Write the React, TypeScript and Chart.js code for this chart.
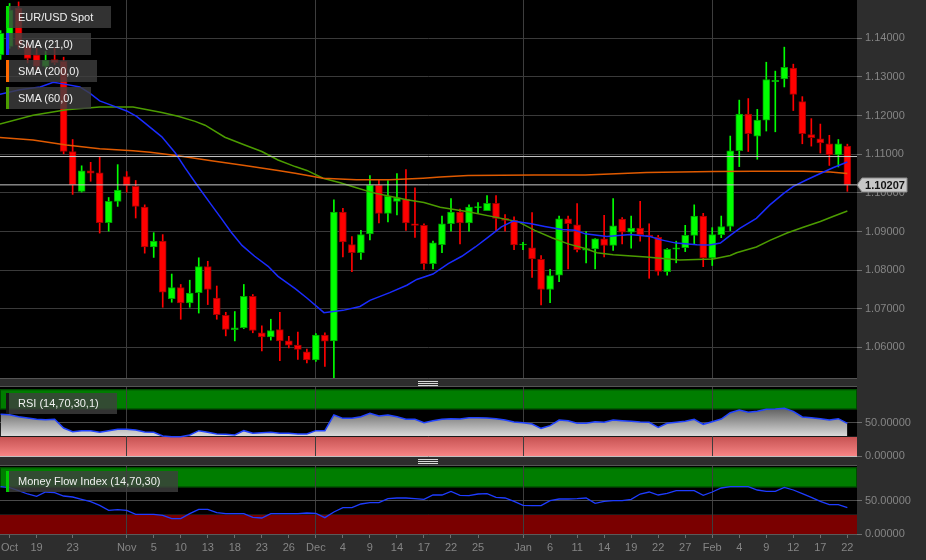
import React, { useEffect, useRef } from "react";
import { Chart, registerables } from "chart.js";

Chart.register(...registerables);

const FONT = "'Liberation Sans', Arial, sans-serif";
const W = 926;
const H = 560;

// candle index axis: index 0 = Oct 14 2015 ... index 93 = Feb 22 2016 (trading days)
const X_MIN = -1.064;
const X_MAX = 94.07;
const FIRST_INDEX = -1;

const OPEN = [
  1.1357, 1.1379, 1.1478, 1.1379, 1.1357, 1.1327, 1.1345, 1.134, 1.1107, 1.1004,
  1.1057, 1.1052, 1.0923, 1.0978, 1.1042, 1.1017, 1.0963, 1.086, 1.0875, 1.0726,
  1.0755, 1.0715, 1.0742, 1.0809, 1.0728, 1.0683, 1.0646, 1.0651, 1.0732, 1.0638,
  1.0627, 1.0646, 1.0617, 1.0606, 1.0589, 1.0568, 1.0632, 1.0617, 1.095, 1.0866,
  1.0845, 1.0894, 1.102, 1.0947, 1.0978, 1.0984, 1.092, 1.0916, 1.0817, 1.0866,
  1.092, 1.095, 1.0922, 1.0962, 1.0954, 1.0973, 1.0934, 1.0929, 1.0865, 1.0858,
  1.0828, 1.075, 1.0787, 1.0933, 1.0917, 1.0852, 1.0855, 1.0881, 1.0864, 1.0932,
  1.0898, 1.0909, 1.0891, 1.0885, 1.0796, 1.0854, 1.0858, 1.089, 1.094, 1.0832,
  1.0892, 1.0913, 1.1109, 1.1204, 1.1147, 1.1188, 1.1288, 1.1295, 1.1323, 1.1236,
  1.1151, 1.114, 1.1127, 1.1098, 1.1121,
];
const HIGH = [
  1.142, 1.149, 1.1494, 1.1391, 1.1374, 1.1366, 1.1374, 1.1351, 1.1138, 1.107,
  1.1079, 1.1094, 1.0988, 1.1073, 1.1055, 1.1032, 1.0969, 1.0897, 1.0892, 1.079,
  1.0763, 1.0774, 1.0832, 1.0823, 1.0759, 1.0691, 1.0693, 1.0763, 1.0737, 1.0656,
  1.0673, 1.0691, 1.0629, 1.064, 1.0596, 1.0636, 1.0638, 1.0982, 1.096, 1.0887,
  1.0903, 1.1045, 1.1034, 1.1032, 1.105, 1.106, 1.1013, 1.092, 1.0875, 1.094,
  1.0985, 1.0958, 1.0969, 1.0975, 1.0993, 1.0993, 1.0944, 1.0938, 1.0872, 1.0949,
  1.0838, 1.0802, 1.094, 1.094, 1.0972, 1.09, 1.0882, 1.0942, 1.0985, 1.0936,
  1.094, 1.0978, 1.092, 1.089, 1.0856, 1.0875, 1.0916, 1.0969, 1.0947, 1.091,
  1.094, 1.1147, 1.124, 1.1244, 1.1216, 1.1338, 1.1315, 1.1377, 1.1333, 1.1249,
  1.1192, 1.1178, 1.1149, 1.1138, 1.1126,
];
const LOW = [
  1.1345, 1.1374, 1.1372, 1.1336, 1.1319, 1.1323, 1.1332, 1.1101, 1.0996, 1.1002,
  1.103, 1.0896, 1.0901, 1.0965, 1.1002, 1.0935, 1.0844, 1.0833, 1.0704, 1.0717,
  1.0673, 1.0704, 1.0689, 1.0711, 1.0673, 1.063, 1.0617, 1.0649, 1.0638, 1.0591,
  1.0619, 1.0566, 1.0599, 1.0569, 1.056, 1.0564, 1.0551, 1.0522, 1.0834, 1.0796,
  1.0828, 1.0878, 1.0922, 1.0925, 1.0943, 1.0903, 1.0885, 1.0802, 1.0803, 1.0845,
  1.0901, 1.0868, 1.0901, 1.0947, 1.0954, 1.0901, 1.0901, 1.0853, 1.0853, 1.0781,
  1.071, 1.0716, 1.077, 1.0803, 1.0847, 1.0819, 1.0803, 1.0834, 1.0851, 1.0868,
  1.0857, 1.0875, 1.0779, 1.0787, 1.0787, 1.0819, 1.0848, 1.0868, 1.0809, 1.0812,
  1.0884, 1.0902, 1.1068, 1.1107, 1.1087, 1.116, 1.1158, 1.1274, 1.1213, 1.1127,
  1.1121, 1.1103, 1.1071, 1.1067, 1.1004,
];
const CLOSE = [
  1.1413, 1.1473, 1.1382, 1.1348, 1.1327, 1.1343, 1.1337, 1.1107, 1.1021, 1.1057,
  1.1051, 1.0923, 1.0978, 1.1007, 1.1019, 1.0965, 1.086, 1.0875, 1.0743, 1.0755,
  1.0715, 1.0741, 1.0809, 1.075, 1.0685, 1.0647, 1.0651, 1.0732, 1.0644, 1.0627,
  1.0644, 1.0617, 1.0606, 1.0595, 1.0568, 1.0632, 1.0616, 1.095, 1.0873, 1.0845,
  1.0892, 1.102, 1.0947, 1.0991, 1.0987, 1.0922, 1.0916, 1.0817, 1.0871, 1.092,
  1.095, 1.0922, 1.0963, 1.0964, 1.0973, 1.0934, 1.0929, 1.0865, 1.0867, 1.0829,
  1.075, 1.0786, 1.0933, 1.092, 1.0853, 1.0856, 1.0881, 1.0864, 1.0915, 1.0898,
  1.0909, 1.0892, 1.0886, 1.0797, 1.0854, 1.0858, 1.089, 1.094, 1.0832, 1.0892,
  1.0913, 1.1109, 1.1204, 1.1153, 1.1188, 1.1293, 1.1291, 1.1325, 1.1255, 1.1153,
  1.1143, 1.1129, 1.1098, 1.1127, 1.10207,
];

// moving averages: [candle index, value]
const SMA21 = [
  [-1.07, 1.1255], [1.15, 1.1267], [3.4, 1.1274], [4.85, 1.1286], [5.96, 1.1282],
  [7.8, 1.1274], [8.9, 1.1258], [10, 1.1238], [11.5, 1.1225], [13, 1.1212],
  [14.1, 1.1198], [15.1, 1.1179], [16.9, 1.1145], [18.4, 1.1103], [19.5, 1.1064],
  [20.9, 1.1017], [22.4, 1.0969], [23.5, 1.0934], [24.6, 1.0898], [25.8, 1.0864],
  [27.2, 1.0836], [28.7, 1.081], [29.8, 1.0784], [31.7, 1.0752], [33, 1.0728],
  [34.9, 1.069], [37, 1.0696], [38.9, 1.0706], [40, 1.0722], [42.2, 1.0742],
  [44.1, 1.0761], [45.2, 1.0776], [47, 1.079], [48.7, 1.0817], [50.2, 1.0836],
  [51.7, 1.086], [53.1, 1.0885], [54.6, 1.0912], [55.9, 1.0927], [57.9, 1.092],
  [59.4, 1.0913], [61.3, 1.0905], [62.8, 1.0903], [63.9, 1.0894], [66.3, 1.0887],
  [68.9, 1.0892], [71.1, 1.0887], [72.2, 1.0879], [74, 1.087], [76.3, 1.0866],
  [77.7, 1.0865], [78.9, 1.087], [80, 1.089], [81.1, 1.0909], [82.9, 1.0934],
  [84.4, 1.0969], [85.9, 1.0998], [87, 1.1017], [88.5, 1.1034], [90, 1.105],
  [91.4, 1.1065], [93, 1.108],
];
const SMA200 = [
  [-1.07, 1.1143], [2.6, 1.1137], [6.3, 1.1124], [10, 1.1114], [13.7, 1.1109],
  [15.6, 1.1105], [18.7, 1.1096], [22.4, 1.1083], [26.1, 1.1071], [29.8, 1.1058],
  [31.7, 1.1051], [34.8, 1.1038], [38.5, 1.1034], [42.2, 1.1034], [45.9, 1.1038],
  [47.8, 1.1041], [50.9, 1.1045], [58.3, 1.1046], [63.9, 1.1046], [70.7, 1.1053],
  [78.1, 1.1055], [82.6, 1.1056], [88.1, 1.1056], [91.1, 1.1054], [93, 1.105],
];
const SMA60 = [
  [-1.07, 1.1178], [2.6, 1.1201], [6.3, 1.1215], [10, 1.1222], [13.7, 1.1222],
  [15.6, 1.1214], [16.9, 1.1208], [18.7, 1.1198], [20.6, 1.1185], [21.7, 1.1175],
  [23.9, 1.1144], [26.1, 1.1124], [28, 1.1107], [29.8, 1.1085], [31.7, 1.1068],
  [33, 1.1058], [34.8, 1.1038], [36.7, 1.1026], [38.5, 1.1013], [40.4, 1.1],
  [42.2, 1.0991], [44.1, 1.0982], [46, 1.0975], [47.8, 1.0963], [50.9, 1.0951],
  [54.6, 1.0934], [56.5, 1.0925], [58.3, 1.0903], [60.2, 1.0884], [62, 1.0868],
  [63.9, 1.0856], [65.2, 1.0845], [67, 1.084], [70.7, 1.0834], [74.4, 1.0826],
  [78.1, 1.0829], [80, 1.0838], [80.7, 1.0845], [82.9, 1.086], [84.4, 1.0877],
  [86.3, 1.0896], [88.1, 1.0911], [90, 1.0926], [91.4, 1.0939], [93, 1.0953],
];

const RSI = [
  62.5, 62, 59, 57, 55, 54.5, 55, 42, 36.5, 38, 38, 35.5, 38, 40, 40, 39, 36, 35.5,
  30, 29, 29, 31.5, 38, 35.5, 33, 32.5, 31.5, 38, 34, 35, 35.5, 34, 34, 33, 33, 38,
  38, 61.5, 56.5, 56.5, 59, 64, 60, 61.5, 59, 55, 55, 50, 53, 55, 56, 55.5, 57.5,
  57.5, 57, 56, 54, 51, 50, 48, 41.5, 45.5, 54, 53, 49, 49, 51.5, 50.5, 54, 53, 52,
  51, 50.5, 43, 49, 50.5, 52, 55, 47.5, 51.5, 55.5, 65, 69, 65.5, 67, 70, 70.5,
  71.5, 67, 58.5, 57.5, 56, 54, 56, 49,
];
const MFI = [
  71, 69.5, 65, 60, 56.5, 63, 62, 57, 55.5, 52, 48.5, 43, 35.5, 36.5, 35.5, 29.5,
  29.5, 29.5, 28, 23, 23, 30.5, 37, 37, 32, 30.5, 30.5, 30.5, 25, 24, 30.5, 30.5,
  30.5, 30.5, 31.5, 31, 24.5, 33, 39.5, 39.5, 45, 47, 47, 53, 54, 54, 53, 52, 58.5,
  58.5, 64, 58, 57.5, 60, 60.5, 55, 54, 49, 43, 42.5, 42.5, 50, 52.5, 52.5, 53, 54,
  46, 49, 50, 50, 52, 60, 63, 58.5, 61, 65, 65, 65, 58, 63, 69, 71, 71, 71, 66, 64,
  64, 70, 66, 60.5, 55, 49, 44, 44, 39.5,
];

const X_TICK_IDX = [0, 3, 7, 13, 16, 19, 22, 25, 28, 31, 34, 37, 40, 43, 46, 49, 52, 57, 60, 63, 66, 69, 72, 75, 78, 81, 84, 87, 90, 93];
const X_TICK_LABELS = ["Oct", "19", "23", "Nov", "5", "10", "13", "18", "23", "26", "Dec", "4", "9", "14", "17", "22", "25", "Jan", "6", "11", "14", "19", "22", "27", "Feb", "4", "9", "12", "17", "22"];
const MONTH_IDX = [13, 34, 57, 78];
const PRICE_TICKS = [1.06, 1.07, 1.08, 1.09, 1.1, 1.11, 1.12, 1.13, 1.14];
const OSC_TICKS = [0, 50];
const PRICE_MIN = 1.0521;
const PRICE_MAX = 1.1499;
const LAST_PRICE = 1.10207;
const PREV_LEVEL = 1.1094;

const MAIN_LEGEND = [
  { text: "EUR/USD Spot", color: "#00dd00" },
  { text: "SMA (21,0)", color: "#1a2cff" },
  { text: "SMA (200,0)", color: "#ff6a00" },
  { text: "SMA (60,0)", color: "#4c9c00" },
];

const IDX = OPEN.map((_, i) => i + FIRST_INDEX);
const UP = OPEN.map((o, i) => CLOSE[i] >= o);

const AXIS_TEXT = "#858585";
const GRID = "#3a3a3a";
const VGRID = "#3d3d3d";

const xMonthGrid = () => ({
  type: "linear" as const,
  min: X_MIN,
  max: X_MAX,
  offset: false,
  afterBuildTicks: (s: any) => {
    s.ticks = MONTH_IDX.map((v) => ({ value: v }));
  },
  ticks: { display: false },
  grid: { color: VGRID, drawTicks: false, offset: false },
  border: { display: false },
  afterFit: (s: any) => {
    s.height = 0;
    s.paddingLeft = 0;
    s.paddingRight = 0;
  },
});

const yAxis = (min: number, max: number, ticks: number[], gridColor: any) => ({
  type: "linear" as const,
  position: "right" as const,
  min,
  max,
  afterBuildTicks: (s: any) => {
    s.ticks = ticks.map((v) => ({ value: v }));
  },
  afterFit: (s: any) => {
    s.width = 69;
    s.paddingTop = 0;
    s.paddingBottom = 0;
  },
  ticks: {
    color: AXIS_TEXT,
    font: { family: FONT, size: 11 },
    padding: 3,
    callback: (v: any) => Number(v).toFixed(5),
  },
  grid: { color: gridColor, tickColor: "#6e6e6e", tickLength: 5, offset: false },
  border: { display: false },
});

const lineDs = (pts: number[][], color: string, width = 1.5) => ({
  type: "line" as const,
  data: pts.map(([x, y]) => ({ x, y })),
  borderColor: color,
  borderWidth: width,
  pointRadius: 0,
  fill: false,
  tension: 0,
});

const levelDs = (v: number) => ({
  type: "line" as const,
  data: [
    { x: X_MIN, y: v },
    { x: X_MAX, y: v },
  ],
  borderColor: "#c8c8c8",
  borderWidth: 1,
  pointRadius: 0,
  fill: false,
});

const blackArea = (bands?: (chart: any) => void) => ({
  id: "blackArea",
  beforeDraw(chart: any) {
    const { ctx, chartArea: a } = chart;
    ctx.save();
    ctx.fillStyle = "#000";
    ctx.fillRect(a.left, a.top, a.right - a.left, a.bottom - a.top);
    ctx.strokeStyle = "#555";
    ctx.lineWidth = 1;
    ctx.beginPath();
    ctx.moveTo(a.left, a.top - 0.5);
    ctx.lineTo(a.right, a.top - 0.5);
    ctx.stroke();
    if (bands) bands(chart);
    ctx.restore();
  },
});

const drawBands = (lowFill: (ctx: any, y1: number, y2: number) => any) => (chart: any) => {
  const { ctx, chartArea: a, scales } = chart;
  const y = scales.y;
  const g1 = y.getPixelForValue(100);
  const g2 = y.getPixelForValue(70);
  ctx.fillStyle = "#007d00";
  ctx.fillRect(a.left, g1, a.right - a.left, g2 - g1);
  ctx.strokeStyle = "#004a00";
  ctx.strokeRect(a.left + 0.5, g1 + 0.5, a.right - a.left - 1, g2 - g1 - 1);
  const r1 = y.getPixelForValue(30);
  const r2 = y.getPixelForValue(0);
  ctx.fillStyle = lowFill(ctx, r1, r2);
  ctx.fillRect(a.left, r1, a.right - a.left, r2 - r1);
  ctx.strokeStyle = "#1a1a1a";
  ctx.beginPath();
  ctx.moveTo(a.left, r1 + 0.5);
  ctx.lineTo(a.right, r1 + 0.5);
  ctx.stroke();
};

const mainDecor = {
  id: "mainDecor",
  afterDraw(chart: any) {
    const { ctx, chartArea: a, scales } = chart;
    ctx.save();
    ctx.strokeStyle = "#555";
    ctx.lineWidth = 1;
    ctx.beginPath();
    ctx.moveTo(a.left, a.bottom + 0.5);
    ctx.lineTo(a.right, a.bottom + 0.5);
    ctx.stroke();
    const y = Math.round(scales.y.getPixelForValue(LAST_PRICE));
    const x0 = a.right;
    ctx.fillStyle = "#c8c8c8";
    ctx.strokeStyle = "#8a8a8a";
    ctx.beginPath();
    ctx.moveTo(x0, y);
    ctx.lineTo(x0 + 5, y - 7);
    ctx.lineTo(x0 + 50, y - 7);
    ctx.lineTo(x0 + 50, y + 7);
    ctx.lineTo(x0 + 5, y + 7);
    ctx.closePath();
    ctx.fill();
    ctx.stroke();
    ctx.fillStyle = "#141414";
    ctx.font = `bold 11px ${FONT}`;
    ctx.textAlign = "center";
    ctx.textBaseline = "middle";
    ctx.fillText(LAST_PRICE.toFixed(5), x0 + 28, y + 0.5);
    ctx.restore();
  },
};

const baseOpts = (bottomPad: number, topPad: number) => ({
  responsive: false,
  animation: false as const,
  devicePixelRatio: 1,
  events: [] as any[],
  layout: { padding: { left: 0, right: 0, top: topPad, bottom: bottomPad } },
  plugins: { legend: { display: false }, tooltip: { enabled: false } },
});

function Tag({ left, top, h, color, text }: { left: number; top: number; h: number; color: string; text: string }) {
  return (
    <div
      style={{
        position: "absolute",
        left,
        top,
        height: h,
        display: "flex",
        alignItems: "stretch",
        background: "rgba(62,62,62,0.8)",
        pointerEvents: "none",
      }}
    >
      <div style={{ width: 3, height: h, background: color }} />
      <div
        style={{
          fontFamily: FONT,
          fontSize: 11,
          lineHeight: `${h}px`,
          height: h,
          padding: "0 18px 0 9px",
          color: "#f0f0f0",
          whiteSpace: "nowrap",
        }}
      >
        {text}
      </div>
    </div>
  );
}

export default function App() {
  const mainRef = useRef<HTMLCanvasElement>(null);
  const rsiRef = useRef<HTMLCanvasElement>(null);
  const mfiRef = useRef<HTMLCanvasElement>(null);

  useEffect(() => {
    document.body.style.margin = "0";
    document.body.style.background = "#2d2d2d";

    const main = new Chart(mainRef.current!, {
      type: "bar",
      data: {
        datasets: [
          levelDs(LAST_PRICE),
          levelDs(PREV_LEVEL),
          lineDs(SMA21, "#1a2cff"),
          lineDs(SMA200, "#e05a00", 1.5),
          lineDs(SMA60, "#4c9c00"),
          {
            type: "bar",
            data: IDX.map((x, i) => ({ x, y: [OPEN[i], CLOSE[i]] })),
            backgroundColor: UP.map((u) => (u ? "#00ff00" : "#ff0000")),
            borderColor: UP.map((u) => (u ? "#00a000" : "#9a0000")),
            borderWidth: 1,
            borderSkipped: false,
            barThickness: 7,
            grouped: false,
            minBarLength: 1,
          },
          {
            type: "bar",
            data: IDX.map((x, i) => ({ x, y: [LOW[i], HIGH[i]] })),
            backgroundColor: UP.map((u) => (u ? "#00ff00" : "#ff0000")),
            borderWidth: 0,
            barThickness: 1,
            grouped: false,
          },
        ] as any,
      },
      options: {
        ...baseOpts(H - 378, 0),
        scales: {
          x: xMonthGrid(),
          y: yAxis(PRICE_MIN, PRICE_MAX, PRICE_TICKS, GRID),
        },
      } as any,
      plugins: [blackArea(), mainDecor],
    });

    const rsi = new Chart(rsiRef.current!, {
      type: "line",
      data: {
        datasets: [
          {
            data: IDX.map((x, i) => ({ x, y: RSI[i] })),
            borderColor: "#2244ff",
            borderWidth: 1.5,
            pointRadius: 0,
            tension: 0,
            fill: { value: 30 },
            backgroundColor: (c: any) => {
              const ch = c.chart;
              if (!ch.chartArea) return "rgba(0,0,0,0)";
              const y = ch.scales.y;
              const g = ch.ctx.createLinearGradient(0, y.getPixelForValue(70), 0, y.getPixelForValue(30));
              g.addColorStop(0, "#646464");
              g.addColorStop(1, "#dadada");
              return g;
            },
          },
        ] as any,
      },
      options: {
        ...baseOpts(H - 456, 387),
        scales: {
          x: xMonthGrid(),
          y: yAxis(0, 103.5, OSC_TICKS, (c: any) => (c.tick && c.tick.value === 0 ? "#c0c0c0" : "#4a4a4a")),
        },
      } as any,
      plugins: [
        blackArea(
          drawBands((ctx, y1, y2) => {
            const g = ctx.createLinearGradient(0, y1, 0, y2);
            g.addColorStop(0, "#c45050");
            g.addColorStop(1, "#f78585");
            return g;
          })
        ),
      ],
    });

    const mfi = new Chart(mfiRef.current!, {
      type: "line",
      data: {
        datasets: [
          {
            data: IDX.map((x, i) => ({ x, y: MFI[i] })),
            borderColor: "#1e3cff",
            borderWidth: 1.3,
            pointRadius: 0,
            tension: 0,
            fill: false,
          },
        ] as any,
      },
      options: {
        ...baseOpts(0, 466),
        scales: {
          x: {
            type: "linear",
            min: X_MIN,
            max: X_MAX,
            offset: false,
            afterBuildTicks: (s: any) => {
              s.ticks = X_TICK_IDX.map((v) => ({ value: v }));
            },
            afterFit: (s: any) => {
              s.height = 26;
              s.paddingLeft = 0;
              s.paddingRight = 0;
            },
            ticks: {
              color: AXIS_TEXT,
              font: { family: FONT, size: 11 },
              autoSkip: false,
              maxRotation: 0,
              padding: 3,
              callback: (v: any) => X_TICK_LABELS[X_TICK_IDX.indexOf(Number(v))],
            },
            grid: {
              color: (c: any) => (c.tick && MONTH_IDX.includes(c.tick.value) ? VGRID : "rgba(0,0,0,0)"),
              tickColor: "#6e6e6e",
              tickLength: 4,
              offset: false,
            },
            border: { display: false },
          },
          y: yAxis(0, 102, OSC_TICKS, (c: any) => (c.tick && c.tick.value === 0 ? "#5a5a5a" : "#4a4a4a")),
        },
      } as any,
      plugins: [blackArea(drawBands(() => "#7a0000"))],
    });

    return () => {
      main.destroy();
      rsi.destroy();
      mfi.destroy();
    };
  }, []);

  const canvasStyle: React.CSSProperties = { position: "absolute", left: 0, top: 0 };

  return (
    <div style={{ position: "absolute", left: 0, top: 0, width: W, height: H, background: "#2d2d2d", overflow: "hidden" }}>
      <canvas ref={mainRef} width={W} height={H} style={canvasStyle} />
      <canvas ref={rsiRef} width={W} height={H} style={canvasStyle} />
      <canvas ref={mfiRef} width={W} height={H} style={canvasStyle} />
      {MAIN_LEGEND.map((l, k) => (
        <Tag key={l.text} left={6} top={6 + k * 27} h={22} color={l.color} text={l.text} />
      ))}
      <Tag left={6} top={393} h={21} color="#161616" text="RSI (14,70,30,1)" />
      <Tag left={6} top={471} h={21} color="#00cc00" text="Money Flow Index (14,70,30)" />
      {[381, 383, 385, 459, 461, 463].map((t) => (
        <div key={t} style={{ position: "absolute", left: 418, top: t, width: 20, height: 1, background: "#d8d8d8" }} />
      ))}
    </div>
  );
}
